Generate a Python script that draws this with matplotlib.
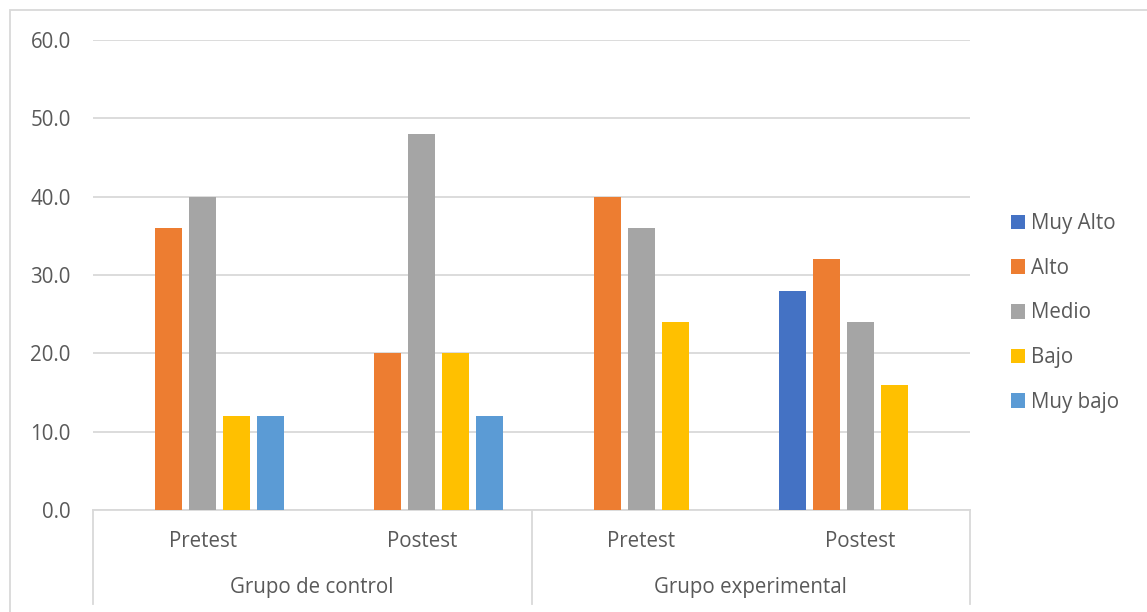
import numpy as np
import matplotlib.pyplot as plt
from matplotlib.patches import Patch, Rectangle

# datos del grafico
grupos = ['Grupo de control', 'Grupo experimental']
momentos = ['Pretest', 'Postest', 'Pretest', 'Postest']
niveles = ['Muy Alto', 'Alto', 'Medio', 'Bajo', 'Muy bajo']
muy_alto = [0, 0, 0, 28]
alto = [36, 20, 40, 32]
medio = [40, 48, 36, 24]
bajo = [12, 20, 24, 16]
muy_bajo = [12, 12, 0, 0]
series = [muy_alto, alto, medio, bajo, muy_bajo]
colores = ['#4472C4', '#ED7D31', '#A5A5A5', '#FFC000', '#5B9BD5']

plt.rcParams['font.family'] = ['Open Sans', 'DejaVu Sans']
gris_txt = '#595959'
gris_lin = '#D9D9D9'
fs = 14.8

fig = plt.figure(figsize=(11.47, 6.12), dpi=100)
ax = fig.add_axes([93 / 1147, 102 / 612, 877 / 1147, 470 / 612])

x = np.arange(len(momentos))
ancho = 0.123
paso = 0.155
for i, (vals, col) in enumerate(zip(series, colores)):
    ax.bar(x + (i - 2) * paso, vals, width=ancho, color=col, label=niveles[i],
           zorder=3)

ax.set_xlim(-0.5, 3.5)
ax.set_ylim(0, 60)
ax.set_yticks(np.arange(0, 61, 10))
ax.set_yticklabels(['%.1f' % v for v in np.arange(0, 61, 10)])
ax.yaxis.grid(True, color=gris_lin, lw=1.3, zorder=0)
ax.tick_params(axis='y', length=0, pad=16, labelsize=fs, labelcolor=gris_txt)
ax.set_xticks([])
for s in ['top', 'right', 'left']:
    ax.spines[s].set_visible(False)
ax.spines['bottom'].set_color(gris_lin)
ax.spines['bottom'].set_linewidth(1.3)

# eje de categorias en dos niveles
tr = ax.get_xaxis_transform()
for xi, m in zip(x, momentos):
    ax.text(xi, -0.066, m, transform=tr, ha='center', va='center',
            fontsize=fs, color=gris_txt)
for k, g in enumerate(grupos):
    ax.text(2 * k + 0.5, -0.164, g, transform=tr, ha='center', va='center',
            fontsize=fs, color=gris_txt)
for xv in [-0.5, 1.5, 3.5]:
    ax.plot([xv, xv], [0, -0.2], transform=tr, color=gris_lin, lw=1.3,
            clip_on=False)

# leyenda
handles = [Patch(facecolor=c, edgecolor='none') for c in colores]
fig.legend(handles, niveles, loc='center left',
           bbox_to_anchor=(992 / 1147, 1 - 313 / 612), frameon=False,
           fontsize=fs, labelcolor=gris_txt, handlelength=0.72,
           handleheight=0.72, handletextpad=0.3, labelspacing=1.15)

# marco exterior
fig.patches.append(Rectangle((10 / 1147, -0.05), 1.2, 1 - 10 / 612 + 0.05,
                             transform=fig.transFigure, fill=False,
                             edgecolor=gris_lin, lw=1.3))

fig.savefig('out.png', dpi=100)
